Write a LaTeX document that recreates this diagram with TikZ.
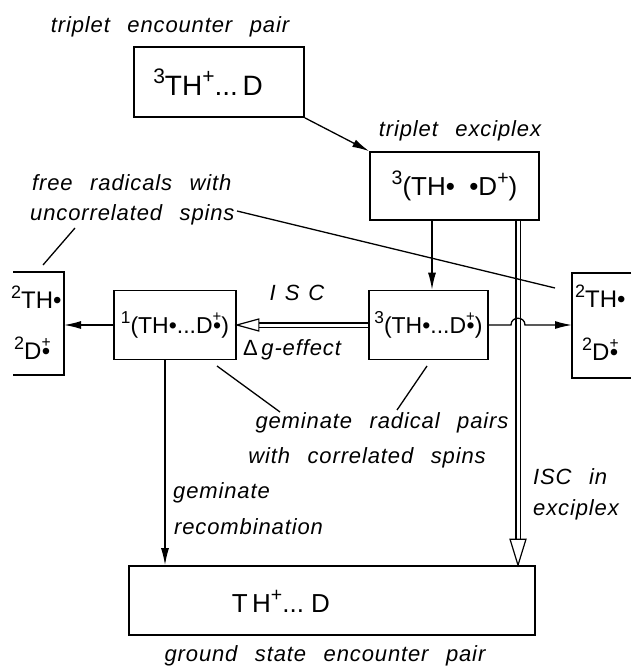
\documentclass[tikz,border=0pt]{standalone}
\usepackage{fontspec}
\setmainfont{Liberation Sans}
\newfontfamily\lblf[WordSpace=2.5,LetterSpace=4]{Liberation Sans}
\usetikzlibrary{arrows.meta,calc}
\newcommand{\rad}{\textbullet}
\newcommand{\upx}[1]{\raisebox{0.42em}{\scalebox{0.75}{#1}}}
\newcommand{\radp}{\makebox[0.38em]{\textbullet}\makebox[0pt][r]{\makebox[0.38em]{\raisebox{0.5em}{\scalebox{0.65}{+}}}}}
\begin{document}
\begin{tikzpicture}[x=1pt,y=-1pt,
  box/.style={draw,line width=1.7pt,inner sep=0pt},
  brk/.style={line width=1.7pt},
  lbl/.style={font=\lblf\itshape\fontsize{22}{26}\selectfont,inner sep=0pt},
  big/.style={font=\fontsize{28}{30}\selectfont},
  mid/.style={font=\fontsize{26}{28}\selectfont},
  sml/.style={font=\fontsize{23}{26}\selectfont},
  frt/.style={font=\fontsize{24}{26}\selectfont,inner sep=0pt},
  arr/.style={line width=1.3pt,-{Latex[length=17pt,width=8pt]}},
  ln/.style={line width=1.3pt},
  dbl/.style={double,double distance=3pt,line width=1.1pt},
  ohead/.style={line width=1.2pt,fill=white,line join=miter}]
\useasboundingbox (0,0) rectangle (631,668);

% boxes
\node[box,big,minimum width=170pt,minimum height=70pt] (b1) at (219,82)
  {\upx{3}TH\upx{+}...\,D\hspace*{22pt}};
\node[box,mid,minimum width=169pt,minimum height=68pt] (b2) at (454.5,186)
  {\upx{3}(TH\rad\ \ \rad D\upx{+})};
\node[box,sml,minimum width=119pt,minimum height=69pt] (b3) at (428.5,325)
  {\upx{3}(TH\rad...D\radp)};
\node[box,sml,minimum width=122pt,minimum height=69pt] (b4) at (175,325)
  {\upx{1}(TH\rad...D\radp)};
\node[box,minimum width=406pt,minimum height=69pt] (gb) at (332,600.5) {};
\node[mid,inner sep=0pt] (gbt) at (281,601) {T\,H\upx{+}...\ D};

% left partial box (free radicals)
\draw[brk] (13,272) -- (64,272) -- (64,375) -- (13,375);
\coordinate (lb) at (64,325);
\node[frt,anchor=west] (lt1) at (11,297) {\upx{2}TH\rad};
\node[frt,anchor=west] (lt2) at (14,348) {\upx{2}D\radp};

% right partial box
\draw[brk] (631,273) -- (572,273) -- (572,378) -- (631,378);
\coordinate (rb) at (572,325);
\node[frt,anchor=west] (rt1) at (575,296) {\upx{2}TH\rad};
\node[frt,anchor=west] (rt2) at (582,349) {\upx{2}D\radp};

% labels
\node[lbl] (tep) at (170,27) {triplet encounter pair};
\node[lbl] (tex) at (460,131) {triplet exciplex};
\node[lbl,anchor=west] (fr1) at (32,183) {free radicals with};
\node[lbl,anchor=west] (fr2) at (30,215) {uncorrelated spins};
\node[lbl] (isc) at (297,293) {I\hspace{9pt}S\hspace{9pt}C};
\node[lbl] (dg) at (292,350) {{\upshape Δ}\,g-effect};
\node[lbl] (grp1) at (382,423) {geminate radical pairs};
\node[lbl] (grp2) at (367,458) {with correlated spins};
\node[lbl,anchor=west] (gr1) at (173,493) {geminate};
\node[lbl,anchor=west] (gr2) at (174,527) {recombination};
\node[lbl,anchor=west] (ie1) at (533,477) {ISC in};
\node[lbl,anchor=west] (ie2) at (533,510) {exciplex};
\node[lbl] (gsp) at (325,656) {ground state encounter pair};

% connectors
\draw[arr] (b1.south east) -- (b2.north west);
\coordinate (a23) at ($(b3.north)+(3.5,0)$);
\draw[arr] (a23 |- b2.south) -- (a23);
\coordinate (dblx) at (518,0);
\draw[dbl] (dblx |- b2.south) -- ($(dblx |- gb.north)+(0,-26)$);
\draw[ohead] (dblx |- gb.north) -- ++(-8,-26) -- ++(16,0) -- cycle;
\draw[dbl] (b3.west) -- ($(b4.east)+(22,0)$);
\draw[ohead] (b4.east) -- ++(22,-6) -- ++(0,12) -- cycle;
\draw[arr] (b4.west) -- (lb);
\draw[arr] (b3.east) -- ($(dblx |- b3.east)+(-7,0)$)
  .. controls +(0,-9) and +(0,-9) .. ($(dblx |- b3.east)+(7,0)$) -- (rb);
\coordinate (a4g) at ($(b4.south)+(-10,0)$);
\draw[arr] (a4g) -- (a4g |- gb.north);

% leader lines
\coordinate (frs) at (237,211);
\coordinate (fre) at (555,288);
\draw[ln] (frs) -- (fre);
\coordinate (fl1) at (75,228);
\coordinate (fl2) at (43,265);
\draw[ln] (fl1) -- (fl2);
\coordinate (g1a) at (217,366);
\coordinate (g1b) at (280,412);
\draw[ln] (g1a) -- (g1b);
\coordinate (g2a) at (427,366);
\coordinate (g2b) at (397,410);
\draw[ln] (g2a) -- (g2b);
\end{tikzpicture}
\end{document}
